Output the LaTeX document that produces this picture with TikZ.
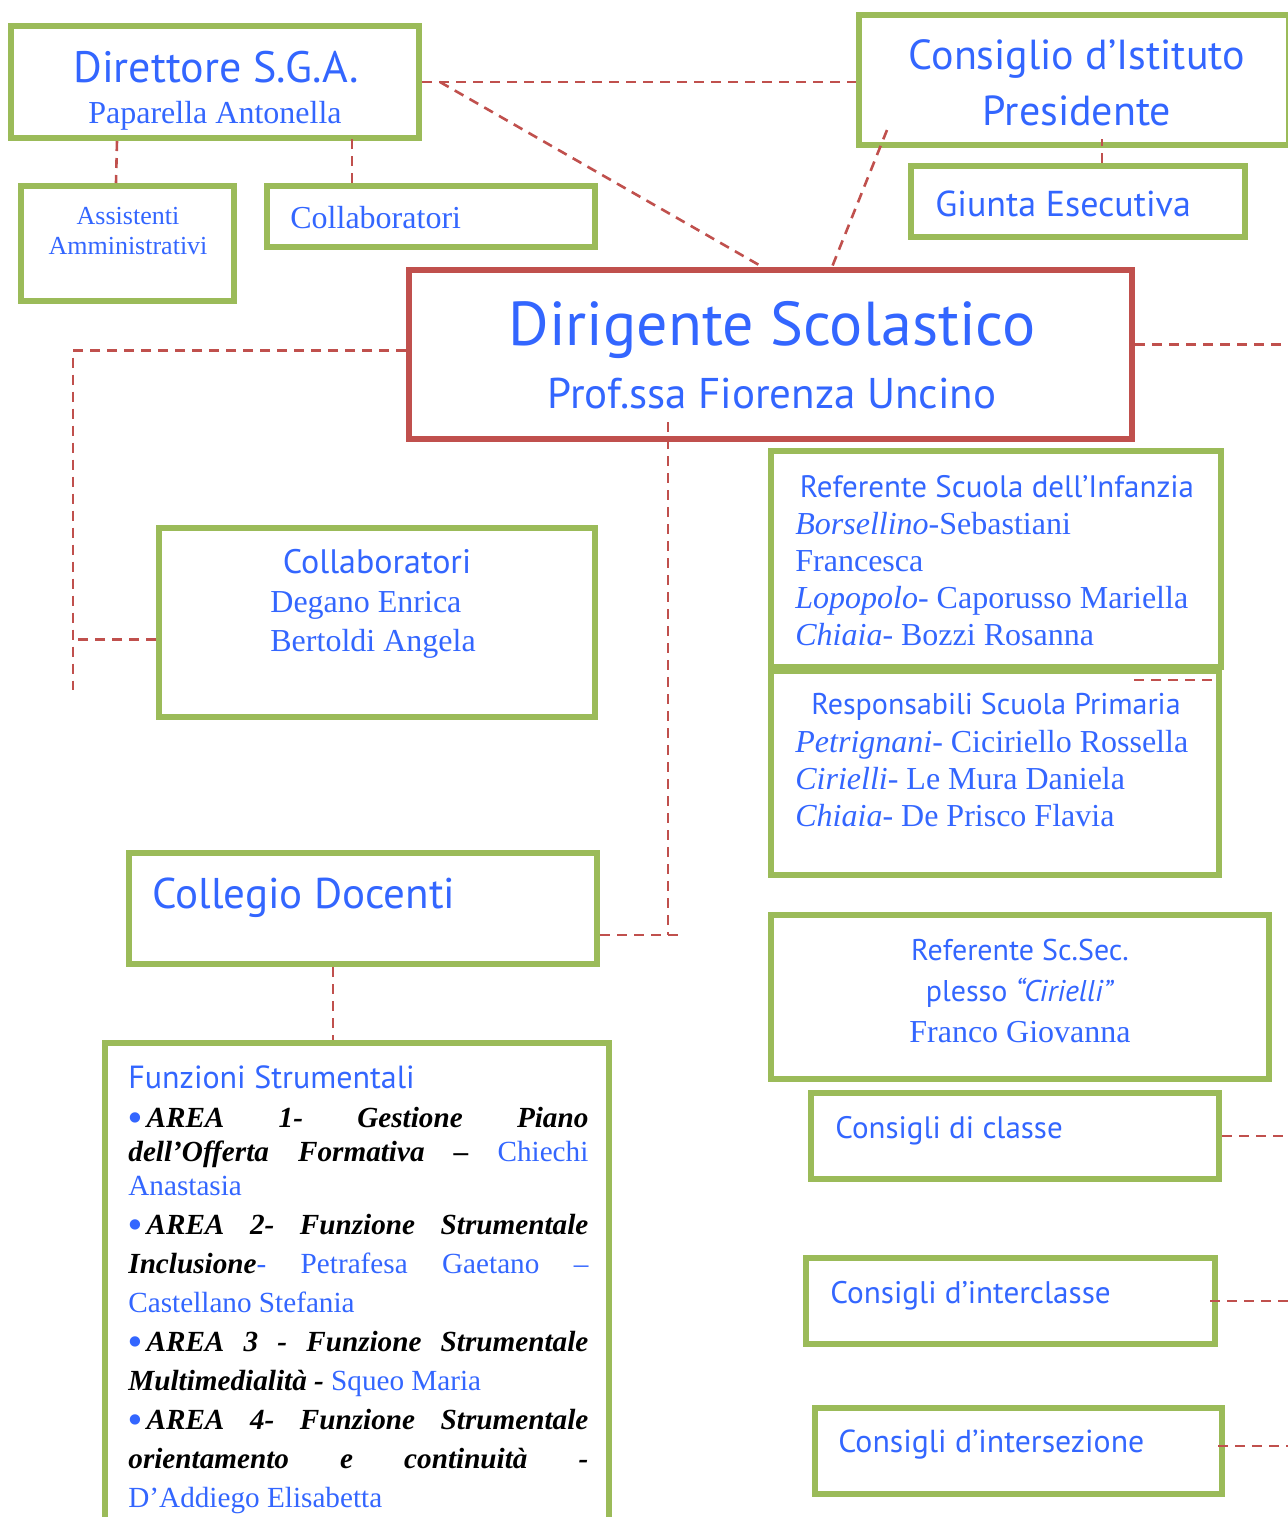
\documentclass[tikz,border=0pt]{standalone}
\usepackage{fontspec}
\setmainfont{Liberation Serif}
\newfontfamily\hand{PT Sans}
\usetikzlibrary{calc, positioning}
\definecolor{boxgreen}{HTML}{9BBB59}
\definecolor{boxred}{HTML}{C0504D}
\definecolor{tblue}{HTML}{3366FF}
\tikzset{
  gbox/.style={draw=boxgreen, line width=3pt, inner sep=0pt},
  rbox/.style={draw=boxred, line width=3pt, inner sep=0pt},
  link/.style={draw=boxred, line width=1.3pt, dash pattern=on 5pt off 3.5pt},
  hw/.style 2 args={font=\hand\fontsize{#1}{#2}\selectfont, text=tblue, inner sep=0pt},
  sf/.style 2 args={font=\fontsize{#1}{#2}\selectfont, text=tblue, inner sep=0pt},
}
\newcommand{\bul}{\raisebox{-1.5pt}{\textcolor{tblue}{\fontsize{19}{19}\selectfont •}}\,}
\newcommand{\nm}[1]{\textcolor{tblue}{\normalfont #1}}
\begin{document}
\begin{tikzpicture}[x=0.5pt, y=-0.5pt]
\useasboundingbox (0,0) rectangle (1287,1517);
% Boxes
\node[gbox, minimum width=204pt, minimum height=56pt] (dsga) at (215,82) {};
\node[gbox, minimum width=106.5pt, minimum height=57.5pt] (ass) at (127.5,243.5) {};
\node[gbox, minimum width=164pt, minimum height=30.5pt] (coll) at (431,216.5) {};
\node[gbox, minimum width=215pt, minimum height=65pt] (cdi) at (1074,80) {};
\node[gbox, minimum width=167pt, minimum height=35.5pt] (giunta) at (1078,201.5) {};
\node[rbox, minimum width=361.5pt, minimum height=84.5pt] (ds) at (770.5,354.5) {};
\node[gbox, minimum width=218pt, minimum height=94.5pt] (staff) at (377,622.5) {};
\node[gbox, minimum width=225pt, minimum height=108pt] (infanzia) at (996,559) {};
\node[gbox, minimum width=224pt, minimum height=102pt] (primaria) at (995,773) {};
\node[gbox, minimum width=234pt, minimum height=55.5pt] (collegio) at (363,908.5) {};
\node[gbox, minimum width=252pt, minimum height=239.5pt] (funz) at (357,1282.5) {};
\node[gbox, minimum width=249pt, minimum height=82pt] (scsec) at (1020,997) {};
\node[gbox, minimum width=204pt, minimum height=43pt] (classe) at (1015,1136) {};
\node[gbox, minimum width=204.5pt, minimum height=43pt] (intercl) at (1010.5,1301) {};
\node[gbox, minimum width=203.5pt, minimum height=43pt] (intersez) at (1018.5,1451) {};

% Texts (multi-line nodes sit on their last line)
\node[hw={22}{22}, anchor=base] (dsgat) at (216,82) {Direttore S.G.A.};
\node[sf={16}{16}, anchor=base] (dsgan) at (215,123) {Paparella Antonella};
\node[sf={13}{15}, align=center, anchor=base] (asst) at (128,254) {Assistenti\\Amministrativi};
\node[sf={16}{16}, anchor=base west] (collt) at (290,228) {Collaboratori};
\node[hw={21}{28}, align=center, anchor=base] (cdit) at (1077,125) {Consiglio d’Istituto\\Presidente};
\node[hw={18}{18}, anchor=base west] (giuntat) at (935,216) {Giunta Esecutiva};
\node[hw={31}{31}, anchor=base] (dst) at (772,345) {Dirigente Scolastico};
\node[hw={21.5}{21.5}, anchor=base] (dsn) at (772,408) {Prof.ssa Fiorenza Uncino};
\node[hw={17}{17}, anchor=base] (stafft) at (377,573) {Collaboratori};
\node[sf={16}{19.5}, align=left, anchor=base west] (staffn) at (270,651) {Degano Enrica\\Bertoldi Angela};
\node[hw={15.5}{15.5}, anchor=base] (infanziat) at (997,497) {Referente Scuola dell’Infanzia};
\node[sf={16}{18.5}, align=left, anchor=base west] (infanzian) at (795,645)
  {\textit{Borsellino}-Sebastiani\\Francesca\\\textit{Lopopolo}- Caporusso Mariella\\\textit{Chiaia}- Bozzi Rosanna};
\node[hw={15}{15}, anchor=base] (primariat) at (996,714) {Responsabili Scuola Primaria};
\node[sf={16}{18.5}, align=left, anchor=base west] (primarian) at (795,826)
  {\textit{Petrignani}- Ciciriello Rossella\\\textit{Cirielli}- Le Mura Daniela\\\textit{Chiaia}- De Prisco Flavia};
\node[hw={21.5}{21.5}, anchor=base west] (collegiot) at (152,908) {Collegio Docenti};
\node[hw={16}{16}, anchor=base west] (funzt) at (128,1088) {Funzioni Strumentali};
\node[font=\fontsize{14.6}{19.5}\selectfont\bfseries\itshape, inner sep=0pt, text width=230pt,
  align=justify, anchor=base west] (funzb) at (128,1127) {%
  {\baselineskip=17pt \bul AREA 1- Gestione Piano\linebreak dell’Offerta Formativa – \nm{Chiechi}\linebreak \nm{Anastasia}\par}
  \bul AREA 2- Funzione Strumentale\linebreak Inclusione\nm{- Petrafesa Gaetano –}\linebreak \nm{Castellano Stefania}\par
  \bul AREA 3 - Funzione Strumentale\linebreak Multimedialità - \nm{Squeo Maria}\par
  \bul AREA 4- Funzione Strumentale\linebreak orientamento e continuità -\linebreak \nm{D’Addiego Elisabetta}};
\node[hw={15}{20.5}, align=center, anchor=base] (scsect) at (1020,1001) {Referente Sc.Sec.\\plesso \textit{“Cirielli”}};
\node[sf={16}{16}, anchor=base] (scsecn) at (1020,1042) {Franco Giovanna};
\node[hw={15.5}{15.5}, anchor=base west] (classet) at (835,1138) {Consigli di classe};
\node[hw={15.6}{15.6}, anchor=base west] (interclt) at (830,1303) {Consigli d’interclasse};
\node[hw={15.9}{15.9}, anchor=base west] (intersezt) at (838,1452) {Consigli d’intersezione};

% Connectors
\coordinate (lend) at (73,690);
\coordinate (dsdrop) at (668,935);
\draw[link] (dsga.east) -- (dsga.east -| cdi.west);
\draw[link] ($(dsga.east)+(18,0)$) -- ($(ds.north)+(-8,0)$);
\draw[link] ($(cdi.south west)+(31,-18)$) -- ($(ds.north)+(61.5,0)$);
\draw[link] ($(giunta.north)+(24,0)$) -- ($(giunta.north)+(24,-24)$);
\draw[link] ($(dsga.south west)+(109,0)$) -- ($(ass.north)+(-11.5,0)$);
\draw[link] ($(coll.north)+(-79,0)$) -- ($(coll.north)+(-79,-48)$);
\draw[link] ($(ds.west)+(0,-4)$) -| (lend);
\draw[link] ($(staff.west)+(0,17)$) -- ($(staff.west)+(-80,17)$);
\draw[link] ($(ds.east)+(0,-10)$) -- ++(160,0);
\draw[link] ($(ds.south -| dsdrop)+(0,-20)$) -- (dsdrop);
\draw[link] (collegio.east |- dsdrop) -- ++(78,0);
\draw[link] ($(collegio.south)+(-30,0)$) -- ($(funz.north)+(-24,0)$);
\draw[link] ($(primaria.north east)+(-88,12)$) -- ++(80,0);
\draw[link] (classe.east) -- ++(70,0);
\draw[link] ($(intercl.east)+(-8,0)$) -- ++(80,0);
\draw[link] ($(intersez.east)+(-7,-5)$) -- ++(75,0);
\end{tikzpicture}
\end{document}
